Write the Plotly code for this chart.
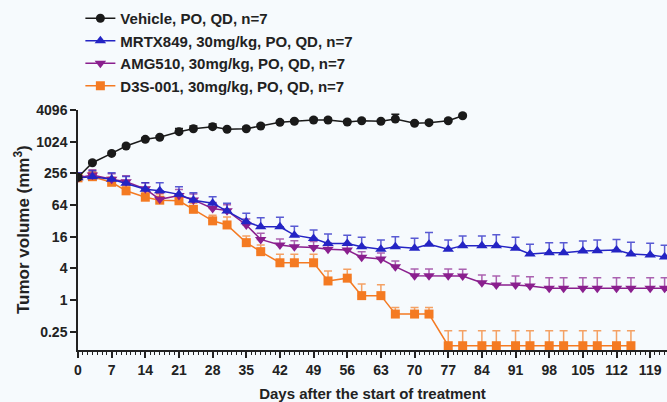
import plotly.graph_objects as go

# ---------------- data ----------------
days_vehicle = [0, 3, 7, 10, 14, 17, 21, 24, 28, 31, 35, 38, 42, 45, 49, 52, 56, 59, 63, 66, 70, 73, 77, 80]
vehicle = [215, 407, 612, 848, 1135, 1240, 1585, 1806, 1975, 1760, 1806, 2035, 2385, 2500, 2650, 2650,
           2420, 2560, 2500, 2760, 2290, 2350, 2560, 3190]
vehicle_err = [10, 30, 40, 60, 80, 90, 245, 225, 245, 130, 130, 150, 170, 180, 190, 190,
               170, 180, 180, 630, 160, 170, 180, 220]

days_long = [0, 3, 7, 10, 14, 17, 21, 24, 28, 31, 35, 38, 42, 45, 49, 52, 56, 59, 63, 66, 70, 73,
             77, 80, 84, 87, 91, 94, 98, 101, 105, 108, 112, 115, 119, 122]
mrtx = [210, 221, 197, 165, 127, 119, 102, 79, 69, 49, 30.7, 24.7, 24.7, 17.1, 14.8, 11.9, 11.9, 10.3,
        9.2, 10.3, 9.6, 11.5, 9.2, 10.8, 10.8, 10.8, 9.6, 7.5, 7.9, 7.9, 8.5, 8.6, 8.9, 7.5, 7.2, 6.6]
mrtx_err = [52, 66, 67, 59, 43, 50, 41, 30, 23, 20, 14, 12, 12.6, 8.2, 6.5, 6, 5.2, 5.3,
            4.6, 5.7, 5.3, 7.6, 4.6, 5.7, 5.7, 6.5, 6, 4, 4.3, 4.3, 4.7, 5.2, 5.3, 5, 4.8, 4.4]

amg = [210, 237, 197, 177, 130, 82, 97, 80, 55, 50, 26.7, 14.2, 11.1, 10.3, 9.9, 9.2, 8.9, 6.5,
       6.0, 4.3, 2.9, 2.9, 2.9, 2.85, 2.13, 1.93, 1.93, 1.84, 1.67, 1.67, 1.67, 1.67, 1.67, 1.67, 1.67, 1.67]
amg_err = [52, 64, 53, 53, 39, 25, 29, 24, 16.5, 15, 8, 4.3, 3.3, 3.1, 3, 2.8, 2.7, 1.8,
           1.8, 1.2, 1.0, 1.0, 1.0, 0.97, 0.85, 0.93, 0.93, 0.92, 0.99, 0.99, 0.99, 0.99, 0.99, 0.99, 0.99, 0.99]

days_d3s = [0, 3, 7, 10, 14, 17, 21, 24, 28, 31, 35, 38, 42, 45, 49, 52, 56, 59, 63, 66, 70, 73,
            77, 80, 84, 87, 91, 94, 98, 101, 105, 108, 112, 115]
d3s = [210, 221, 173, 119, 90, 79, 77, 53, 32, 26.7, 12.3, 8.3, 5.1, 5.1, 5.1, 2.3, 2.6, 1.21,
       1.21, 0.54, 0.54, 0.54, 0.135, 0.135, 0.135, 0.135, 0.135, 0.135, 0.135, 0.135, 0.135, 0.135, 0.135, 0.135]
d3s_err = [42, 55, 43, 30, 22, 24, 23, 16, 9, 11.2, 4.2, 2.8, 2.3, 2.3, 2.3, 1.27, 1.25, 0.81,
           0.73, 0.18, 0.18, 0.18, 0.126, 0.126, 0.126, 0.126, 0.126, 0.126, 0.126, 0.126, 0.126, 0.126, 0.126, 0.126]

y_tickvals = [0.25, 1, 4, 16, 64, 256, 1024, 4096]
y_ticktext = ["0.25", "1", "4", "16", "64", "256", "1024", "4096"]
x_tickvals = list(range(0, 120, 7))

names = ["Vehicle, PO, QD, n=7", "MRTX849, 30mg/kg, PO, QD, n=7",
         "AMG510, 30mg/kg, PO, QD, n=7", "D3S-001, 30mg/kg, PO, QD, n=7"]
y_title = "Tumor volume (mm<sup>3</sup>)"
x_title = "Days after the start of treatment"

# ---------------- figure ----------------
FONT = "Arial, Liberation Sans, sans-serif"
TXT = "#222222"
BG = "#f6fafd"

fig = go.Figure()


def add(x, y, err, name, color, ecolor, symbol, size, rank):
    fig.add_trace(go.Scatter(
        x=x, y=y, name=name, mode="lines+markers",
        line=dict(color=color, width=1.5),
        marker=dict(symbol=symbol, size=size, color=color, line=dict(width=0)),
        error_y=dict(type="data", symmetric=False, array=err, arrayminus=[0] * len(err),
                     color=ecolor, thickness=1.5, width=4),
        legendrank=rank,
    ))


add(days_d3s, d3s, d3s_err, names[3], "#f47a22", "rgba(244,122,34,0.7)", "square", 9, 4)
add(days_long, amg, amg_err, names[2], "#8a1f8e", "rgba(138,31,142,0.7)", "triangle-down", 10, 3)
add(days_long, mrtx, mrtx_err, names[1], "#2424c4", "rgba(36,36,196,0.75)", "triangle-up", 10, 2)
add(days_vehicle, vehicle, vehicle_err, names[0], "#1a1a1a", "#1a1a1a", "circle", 9, 1)

fig.update_layout(
    width=667, height=402,
    margin=dict(l=78, r=0, t=110, b=52, autoexpand=False),
    paper_bgcolor=BG, plot_bgcolor=BG,
    font=dict(family=FONT, color=TXT, size=14),
    showlegend=True,
    legend=dict(
        xref="container", yref="container", x=0.1205, y=0.995,
        xanchor="left", yanchor="top",
        bgcolor="rgba(0,0,0,0)", font=dict(size=15, family=FONT, color=TXT, weight="bold"),
        itemwidth=30, tracegroupgap=0,
    ),
    annotations=[dict(
        text=y_title, textangle=-90, showarrow=False,
        xref="paper", yref="paper", x=-56 / 589, y=0.5, xanchor="center", yanchor="middle",
        font=dict(size=17, family=FONT, color=TXT, weight="bold"),
    )],
)

fig.update_xaxes(
    range=[0, 122.5], showgrid=False, zeroline=False,
    showline=True, linecolor=TXT, linewidth=1.5,
    tickmode="array", tickvals=x_tickvals, ticktext=[str(v) for v in x_tickvals],
    tickangle=0,
    ticks="outside", ticklen=6, tickwidth=1.5, tickcolor=TXT,
    minor=dict(dtick=1, tick0=0, ticks="outside", ticklen=3, tickwidth=1, tickcolor=TXT, showgrid=False),
    tickfont=dict(size=14, family=FONT, color=TXT, weight="bold"),
    title=dict(text=x_title, standoff=12,
               font=dict(size=15, family=FONT, color=TXT, weight="bold")),
)

fig.update_yaxes(
    type="log", range=[-0.951, 3.6124], showgrid=False, zeroline=False,
    showline=True, linecolor=TXT, linewidth=1.5,
    tickmode="array", tickvals=y_tickvals, ticktext=y_ticktext,
    ticks="outside", ticklen=6, tickwidth=1.5, tickcolor=TXT,
    tickfont=dict(size=14, family=FONT, color=TXT, weight="bold"),
)

fig.write_html("out.html", config={"displayModeBar": False},
               post_script="document.body.style.margin='0';document.body.style.background='%s';" % BG)
